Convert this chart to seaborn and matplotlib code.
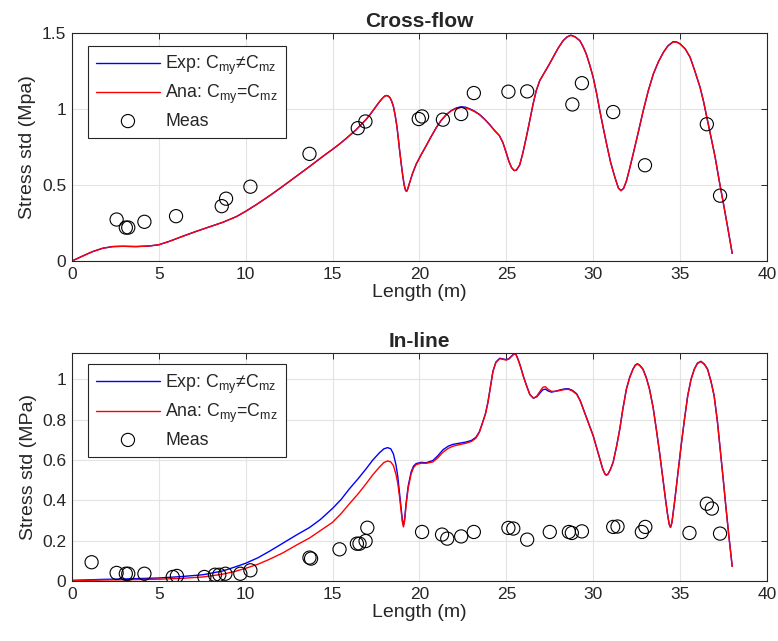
import numpy as np
import pandas as pd
import matplotlib
matplotlib.use("Agg")
import matplotlib.pyplot as plt
from matplotlib.ticker import FuncFormatter
import seaborn as sns

# ---------------- Cross-flow data ----------------
cf_len = [0, 0.62, 1.19, 1.77, 2.35, 2.92, 3.69, 4.46, 5.0, 5.62, 6.38, 7.15, 7.92,
          8.69, 9.46, 10.0, 10.6, 11.38, 12.15, 12.92, 13.69, 14.46, 15.0, 15.4,
          15.77, 16.35, 16.92, 17.2, 17.5, 17.7, 17.88, 18.0, 18.1, 18.2, 18.3, 18.4,
          18.5, 18.6, 18.7, 18.78, 18.85, 18.95, 19.04, 19.12, 19.2, 19.26, 19.33,
          19.42, 19.6, 19.81, 20.1, 20.38, 20.67, 20.96, 21.25, 21.54, 21.83, 22.12,
          22.4, 22.65, 22.88, 23.17, 23.46, 23.75, 24.04, 24.3, 24.6, 24.8, 25.0,
          25.15, 25.3, 25.45, 25.58, 25.77, 25.95, 26.15, 26.35, 26.54, 26.72, 26.92,
          27.2, 27.45, 27.69, 27.98, 28.27, 28.5, 28.71, 28.95, 29.23, 29.42, 29.6,
          29.8, 30.0, 30.2, 30.38, 30.58, 30.77, 31.0, 31.25, 31.45, 31.6, 31.75,
          31.92, 32.1, 32.3, 32.6, 32.88, 33.17, 33.46, 33.75, 34.04, 34.3, 34.6,
          34.8, 35.0, 35.3, 35.58, 35.85, 36.15, 36.35, 36.54, 36.78, 37.02, 37.25,
          37.5, 37.75, 38.0]
cf_exp = [0, 0.033, 0.062, 0.084, 0.095, 0.097, 0.095, 0.099, 0.107, 0.13, 0.163,
          0.195, 0.225, 0.255, 0.292, 0.327, 0.37, 0.43, 0.493, 0.558, 0.623, 0.69,
          0.735, 0.77, 0.805, 0.863, 0.93, 0.97, 1.017, 1.048, 1.072, 1.085, 1.089,
          1.086, 1.075, 1.052, 1.017, 0.96, 0.887, 0.81, 0.735, 0.64, 0.56, 0.5,
          0.465, 0.458, 0.475, 0.51, 0.575, 0.637, 0.7, 0.757, 0.818, 0.876, 0.925,
          0.963, 0.99, 1.007, 1.015, 1.012, 1.002, 0.986, 0.964, 0.933, 0.898, 0.862,
          0.825, 0.78, 0.71, 0.655, 0.615, 0.595, 0.598, 0.632, 0.71, 0.814, 0.925,
          1.033, 1.12, 1.186, 1.241, 1.29, 1.34, 1.4, 1.45, 1.475, 1.486, 1.476, 1.45,
          1.41, 1.362, 1.29, 1.208, 1.1, 0.989, 0.875, 0.77, 0.65, 0.55, 0.48, 0.463,
          0.478, 0.529, 0.61, 0.704, 0.85, 0.989, 1.12, 1.23, 1.31, 1.373, 1.416,
          1.443, 1.441, 1.429, 1.395, 1.34, 1.25, 1.143, 1.05, 0.945, 0.815, 0.682,
          0.53, 0.375, 0.215, 0.05]
cf_ana = [0, 0.033, 0.062, 0.084, 0.095, 0.097, 0.095, 0.099, 0.107, 0.13, 0.163,
          0.195, 0.225, 0.255, 0.292, 0.327, 0.37, 0.43, 0.493, 0.558, 0.623, 0.69,
          0.735, 0.77, 0.805, 0.863, 0.93, 0.97, 1.017, 1.048, 1.072, 1.084, 1.088,
          1.085, 1.075, 1.052, 1.017, 0.96, 0.887, 0.81, 0.735, 0.64, 0.56, 0.5,
          0.465, 0.458, 0.475, 0.51, 0.575, 0.637, 0.7, 0.757, 0.818, 0.876, 0.925,
          0.962, 0.988, 1.004, 1.011, 1.008, 0.999, 0.983, 0.962, 0.932, 0.897, 0.861,
          0.825, 0.78, 0.71, 0.655, 0.615, 0.595, 0.598, 0.632, 0.71, 0.814, 0.925,
          1.033, 1.12, 1.186, 1.241, 1.29, 1.34, 1.4, 1.45, 1.474, 1.484, 1.474, 1.45,
          1.41, 1.362, 1.29, 1.208, 1.1, 0.989, 0.875, 0.77, 0.65, 0.55, 0.48, 0.463,
          0.478, 0.529, 0.61, 0.704, 0.85, 0.989, 1.12, 1.23, 1.31, 1.373, 1.415,
          1.441, 1.44, 1.428, 1.395, 1.34, 1.25, 1.143, 1.05, 0.945, 0.815, 0.682,
          0.53, 0.375, 0.215, 0.05]
cf_meas_len = [2.57, 3.1, 3.24, 4.17, 5.99, 8.62, 8.87, 10.27, 13.67, 16.45, 16.89,
               19.96, 20.15, 21.35, 22.4, 23.13, 25.12, 26.2, 28.8, 29.35, 31.15,
               32.98, 36.54, 37.3]
cf_meas = [0.273, 0.22, 0.22, 0.258, 0.295, 0.361, 0.41, 0.489, 0.705, 0.874, 0.918,
           0.934, 0.951, 0.93, 0.967, 1.105, 1.114, 1.116, 1.03, 1.17, 0.98, 0.63,
           0.9, 0.43]

# ---------------- In-line data ----------------
il_len = [0, 1.0, 1.77, 3.0, 5.0, 6.3, 7.54, 8.69, 9.4, 10.0, 10.7, 11.38, 12.15,
          12.92, 13.67, 14.3, 15.0, 15.5, 15.96, 16.45, 16.92, 17.3, 17.69, 17.95,
          18.17, 18.35, 18.5, 18.65, 18.75, 18.85, 18.94, 19.02, 19.08, 19.15, 19.23,
          19.35, 19.52, 19.66, 19.81, 20.1, 20.38, 20.77, 21.05, 21.35, 21.65, 21.92,
          22.3, 22.69, 23.0, 23.25, 23.45, 23.65, 23.8, 23.94, 24.1, 24.23, 24.4,
          24.62, 24.85, 25.0, 25.15, 25.3, 25.45, 25.55, 25.67, 25.8, 26.0, 26.18,
          26.35, 26.56, 26.75, 26.95, 27.1, 27.25, 27.4, 27.6, 27.85, 28.09, 28.35,
          28.57, 28.8, 29.05, 29.25, 29.43, 29.7, 30.0, 30.2, 30.38, 30.55, 30.68,
          30.76, 30.85, 31.0, 31.15, 31.35, 31.53, 31.7, 31.91, 32.1, 32.29, 32.42,
          32.54, 32.67, 32.86, 33.05, 33.24, 33.45, 33.63, 33.83, 34.01, 34.17, 34.29,
          34.38, 34.45, 34.53, 34.68, 34.87, 35.06, 35.25, 35.44, 35.63, 35.82, 36.0,
          36.2, 36.4, 36.58, 36.78, 36.96, 37.15, 37.35, 37.5, 37.63, 37.8, 38.0]
il_exp = [0.003, 0.006, 0.008, 0.01, 0.015, 0.022, 0.031, 0.05, 0.07, 0.088, 0.115,
          0.148, 0.188, 0.228, 0.265, 0.305, 0.36, 0.405, 0.456, 0.505, 0.555, 0.598,
          0.635, 0.655, 0.661, 0.655, 0.63, 0.575, 0.52, 0.44, 0.37, 0.3, 0.276, 0.31,
          0.385, 0.47, 0.54, 0.57, 0.582, 0.588, 0.586, 0.597, 0.62, 0.65, 0.668,
          0.677, 0.683, 0.689, 0.697, 0.712, 0.74, 0.79, 0.83, 0.886, 0.97, 1.04,
          1.085, 1.104, 1.1, 1.097, 1.102, 1.115, 1.127, 1.125, 1.1, 1.068, 1.01,
          0.965, 0.925, 0.906, 0.913, 0.933, 0.948, 0.951, 0.942, 0.936, 0.941, 0.947,
          0.952, 0.953, 0.945, 0.928, 0.895, 0.853, 0.79, 0.72, 0.66, 0.605, 0.555,
          0.53, 0.525, 0.53, 0.555, 0.59, 0.67, 0.754, 0.85, 0.952, 1.01, 1.051, 1.07,
          1.077, 1.07, 1.051, 1.01, 0.952, 0.86, 0.754, 0.63, 0.506, 0.4, 0.324, 0.28,
          0.266, 0.29, 0.39, 0.53, 0.671, 0.8, 0.919, 1.0, 1.051, 1.08, 1.089, 1.075,
          1.051, 0.99, 0.919, 0.79, 0.621, 0.49, 0.374, 0.23, 0.073]
il_ana = [0.002, 0.004, 0.005, 0.006, 0.009, 0.013, 0.02, 0.034, 0.048, 0.063, 0.083,
          0.108, 0.14, 0.178, 0.213, 0.25, 0.291, 0.335, 0.382, 0.43, 0.481, 0.525,
          0.564, 0.587, 0.595, 0.59, 0.572, 0.528, 0.485, 0.42, 0.35, 0.29, 0.268,
          0.3, 0.375, 0.46, 0.53, 0.562, 0.577, 0.584, 0.583, 0.59, 0.61, 0.638,
          0.657, 0.668, 0.676, 0.683, 0.692, 0.708, 0.737, 0.788, 0.828, 0.884, 0.968,
          1.038, 1.083, 1.102, 1.098, 1.095, 1.1, 1.113, 1.125, 1.123, 1.098, 1.066,
          1.008, 0.963, 0.924, 0.906, 0.916, 0.942, 0.96, 0.963, 0.95, 0.94, 0.94,
          0.944, 0.949, 0.95, 0.942, 0.925, 0.893, 0.851, 0.788, 0.719, 0.659, 0.604,
          0.554, 0.529, 0.524, 0.529, 0.554, 0.589, 0.669, 0.752, 0.848, 0.95, 1.008,
          1.049, 1.068, 1.075, 1.068, 1.049, 1.008, 0.95, 0.858, 0.753, 0.629, 0.505,
          0.399, 0.323, 0.279, 0.265, 0.289, 0.389, 0.529, 0.67, 0.799, 0.917, 0.998,
          1.049, 1.078, 1.087, 1.073, 1.049, 0.988, 0.917, 0.789, 0.62, 0.489, 0.373,
          0.229, 0.072]
il_meas_len = [1.13, 2.57, 3.1, 3.24, 4.17, 5.8, 6.04, 7.62, 8.23, 8.48, 8.83, 9.69,
               10.27, 13.67, 13.76, 15.4, 16.4, 16.55, 16.9, 17.0, 20.15, 21.3, 21.6,
               22.4, 23.13, 25.12, 25.4, 26.2, 27.5, 28.6, 28.77, 29.35, 31.15, 31.4,
               32.8, 33.0, 35.54, 36.54, 36.83, 37.3]
il_meas = [0.093, 0.04, 0.036, 0.036, 0.036, 0.02, 0.025, 0.02, 0.031, 0.031, 0.036,
           0.036, 0.053, 0.116, 0.111, 0.157, 0.185, 0.185, 0.198, 0.264, 0.243, 0.23,
           0.21, 0.221, 0.243, 0.263, 0.26, 0.205, 0.243, 0.243, 0.238, 0.246, 0.268,
           0.27, 0.243, 0.268, 0.238, 0.383, 0.359, 0.235]

label_exp = r"Exp: C$_{\mathrm{my}}$≠C$_{\mathrm{mz}}$"
label_ana = r"Ana: C$_{\mathrm{my}}$=C$_{\mathrm{mz}}$"

sns.set_style("white")
plt.rcParams["font.family"] = ["Liberation Sans", "DejaVu Sans"]
plt.rcParams["mathtext.fontset"] = "custom"
plt.rcParams["mathtext.rm"] = "Liberation Sans"
plt.rcParams["mathtext.it"] = "Liberation Sans:italic"
plt.rcParams["mathtext.bf"] = "Liberation Sans:bold"

fig = plt.figure(figsize=(7.78, 6.41), dpi=100)
ax1 = fig.add_axes([0.0925, 0.5928, 0.8933, 0.3557])
ax2 = fig.add_axes([0.0925, 0.0936, 0.8933, 0.3557])


def draw(ax, xl, ye, ya, xm, ym, title, ylabel, ylim, yticks, leg_y):
    sns.lineplot(x=xl, y=ye, ax=ax, color="#0000ff", lw=1.0, sort=False,
                 estimator=None, label=label_exp)
    sns.lineplot(x=xl, y=ya, ax=ax, color="#ff0000", lw=1.0, sort=False,
                 estimator=None, label=label_ana)
    sns.scatterplot(x=xm, y=ym, ax=ax, marker="o", s=90, facecolor="none",
                    edgecolor="black", linewidth=0.8, label="Meas", zorder=3)
    ax.set_xlim(0, 40)
    ax.set_ylim(*ylim)
    ax.set_xticks(np.arange(0, 41, 5))
    ax.set_yticks(yticks)
    ax.yaxis.set_major_formatter(FuncFormatter(lambda v, p: "%g" % round(v, 3)))
    ax.grid(True, color="#e3e3e3", lw=0.8)
    ax.set_axisbelow(True)
    for s in ax.spines.values():
        s.set_color("#262626")
        s.set_linewidth(0.8)
    ax.tick_params(direction="in", top=True, right=True, length=4, width=0.7,
                   labelsize=12.5, colors="#262626", pad=4)
    ax.set_xlabel("Length (m)", fontsize=14, color="#262626", labelpad=2)
    ax.set_ylabel(ylabel, fontsize=14, color="#262626", labelpad=4)
    ax.set_title(title, fontsize=15, fontweight="bold", pad=4)
    leg = ax.legend(loc="upper left", bbox_to_anchor=(0.023, leg_y),
                    borderaxespad=0, fontsize=12.8, frameon=True, fancybox=False,
                    edgecolor="#262626", framealpha=1, handlelength=3.6,
                    handletextpad=0.3, labelspacing=0.36, borderpad=0.45)
    leg.get_frame().set_linewidth(0.8)


draw(ax1, cf_len, cf_exp, cf_ana, cf_meas_len, cf_meas, "Cross-flow",
     "Stress std (Mpa)", (0, 1.5), [0, 0.5, 1, 1.5], 0.945)
draw(ax2, il_len, il_exp, il_ana, il_meas_len, il_meas, "In-line",
     "Stress std (MPa)", (0, 1.13), [0, 0.2, 0.4, 0.6, 0.8, 1.0], 0.95)

fig.savefig("out.png", dpi=100)
